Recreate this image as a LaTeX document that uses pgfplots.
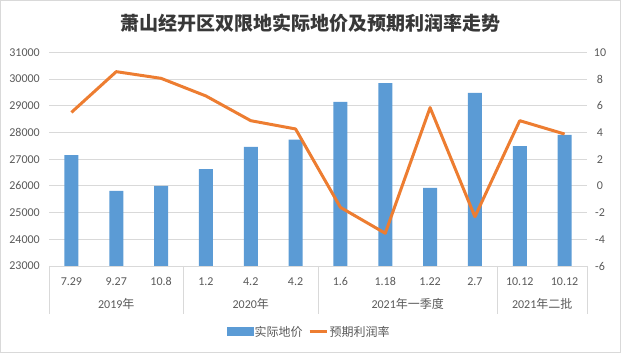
\documentclass[border=0pt]{standalone}
\usepackage{pgfplots}
\pgfplotsset{compat=1.18}
\usepackage{fontspec}
\setmainfont{Carlito}
\newfontfamily\cjk{Noto Sans CJK SC}
\definecolor{barblue}{HTML}{5B9BD5}
\definecolor{lineorange}{HTML}{ED7D31}
\definecolor{txt}{HTML}{595959}
\definecolor{gridc}{HTML}{D9D9D9}
\begin{document}
\begin{tikzpicture}[font=\fontsize{12}{14}\selectfont]
\path[use as bounding box] (0,0) rectangle (621pt,353pt);
\draw[gridc, line width=0.75pt] (0.5pt,0.5pt) rectangle (620.5pt,352.5pt);
\node[font=\cjk\bfseries\fontsize{19}{22}\selectfont, text=black!78] at (310pt,330pt) {萧山经开区双限地实际地价及预期利润率走势};
\begin{axis}[
  at={(49pt,87pt)}, anchor=south west, scale only axis,
  width=538pt, height=213.7pt,
  xmin=-0.5, xmax=11.5, ymin=23000, ymax=31000,
  ytick={23000,24000,...,31000},
  scaled y ticks=false,
  axis x line*=bottom, axis y line*=left,
  y axis line style={draw=none},
  x axis line style={draw=gridc, line width=0.75pt},
  ymajorgrids, grid style={gridc, line width=0.75pt},
  major tick length=0pt,
  xtick={0,...,11},
  xticklabels={7.29,9.27,10.8,1.2,4.2,4.2,1.6,1.18,1.22,2.7,10.12,10.12},
  xticklabel style={anchor=center, yshift=-15.7pt, text=txt},
  yticklabel style={anchor=east, inner sep=0pt, xshift=-9pt, text=txt, /pgf/number format/fixed},
  /pgf/number format/.cd, 1000 sep={}, assume math mode=true, /pgfplots/.cd,
  clip=false,
]
\addplot[ybar, bar width=14pt, bar shift=0pt, fill=barblue, draw=none] coordinates {
(0,27150) (1,25810) (2,26000) (3,26630) (4,27460) (5,27730)
(6,29140) (7,29850) (8,25920) (9,29480) (10,27490) (11,27910)};
\pgfplotsinvokeforeach{-0.5,2.5,5.5,9.5,11.5}{
  \draw[gridc, line width=0.75pt] (axis cs:#1,23000) -- ++(0pt,-48pt);
}
\node[text=txt] at ([yshift=-38pt]axis cs:1,23000) {2019{\cjk 年}};
\node[text=txt] at ([yshift=-38pt]axis cs:4,23000) {2020{\cjk 年}};
\node[text=txt] at ([yshift=-38pt]axis cs:7.5,23000) {2021{\cjk 年一季度}};
\node[text=txt] at ([yshift=-38pt]axis cs:10.5,23000) {2021{\cjk 年二批}};
\end{axis}
\begin{axis}[
  at={(49pt,87pt)}, anchor=south west, scale only axis,
  width=538pt, height=213.7pt,
  xmin=-0.5, xmax=11.5, ymin=-6, ymax=10,
  ytick={-6,-4,...,10},
  axis y line*=right, axis x line=none,
  y axis line style={draw=none},
  major tick length=0pt,
  yticklabel style={anchor=center, xshift=13pt, text=txt},
  /pgf/number format/.cd, assume math mode=true, /pgfplots/.cd,
  legend columns=2,
  legend style={at={(0.483,-0.3074)}, anchor=center, draw=none, fill=none,
    font=\cjk\fontsize{12}{14}\selectfont, text=txt,
    nodes={inner sep=1.5pt},
    /tikz/every even column/.append style={column sep=4pt}},
]
\addlegendimage{legend image code/.code={\fill[barblue] (0pt,-4pt) rectangle (26pt,4pt);}}
\addlegendentry{实际地价}
\addplot[lineorange, line width=3pt, line join=round, mark=none] coordinates {
(0,5.5) (1,8.55) (2,8.05) (3,6.73) (4,4.88) (5,4.26)
(6,-1.61) (7,-3.55) (8,5.86) (9,-2.31) (10,4.88) (11,3.88)};
\addlegendentry{预期利润率}
\end{axis}
\end{tikzpicture}
\end{document}
